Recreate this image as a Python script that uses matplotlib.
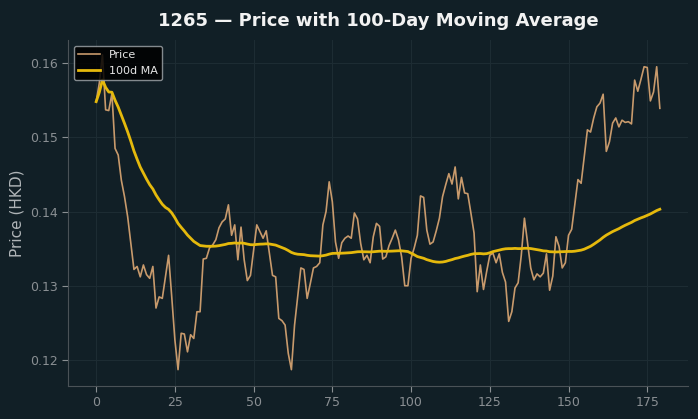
import matplotlib.pyplot as plt
import numpy as np
import pandas as pd

# daily closing prices (HKD)
price = [
    0.1548, 0.1573, 0.1611, 0.1537, 0.1536, 0.1559, 0.1485, 0.1476, 0.1442, 0.1420,
    0.1393, 0.1358, 0.1322, 0.1326, 0.1312, 0.1328, 0.1315, 0.1310, 0.1326, 0.1270,
    0.1285, 0.1283, 0.1312, 0.1341, 0.1285, 0.1227, 0.1187, 0.1236, 0.1235, 0.1211,
    0.1234, 0.1229, 0.1265, 0.1265, 0.1336, 0.1337, 0.1351, 0.1355, 0.1362, 0.1378,
    0.1386, 0.1390, 0.1409, 0.1368, 0.1382, 0.1335, 0.1379, 0.1335, 0.1307, 0.1314,
    0.1348, 0.1382, 0.1373, 0.1364, 0.1374, 0.1344, 0.1314, 0.1312, 0.1256, 0.1253,
    0.1247, 0.1209, 0.1187, 0.1247, 0.1285, 0.1324, 0.1322, 0.1283, 0.1303, 0.1324,
    0.1326, 0.1331, 0.1382, 0.1400, 0.1440, 0.1413, 0.1359, 0.1337, 0.1358, 0.1364,
    0.1367, 0.1364, 0.1398, 0.1390, 0.1357, 0.1335, 0.1341, 0.1331, 0.1366, 0.1384,
    0.1380, 0.1336, 0.1339, 0.1354, 0.1364, 0.1375, 0.1362, 0.1339, 0.1300, 0.1300,
    0.1337, 0.1351, 0.1368, 0.1421, 0.1419, 0.1375, 0.1356, 0.1359, 0.1374, 0.1391,
    0.1420, 0.1436, 0.1451, 0.1437, 0.1460, 0.1417, 0.1446, 0.1425, 0.1424, 0.1398,
    0.1371, 0.1292, 0.1328, 0.1295, 0.1319, 0.1341, 0.1344, 0.1331, 0.1343, 0.1318,
    0.1305, 0.1252, 0.1265, 0.1297, 0.1304, 0.1341, 0.1391, 0.1357, 0.1324, 0.1308,
    0.1316, 0.1312, 0.1317, 0.1343, 0.1294, 0.1313, 0.1366, 0.1353, 0.1324, 0.1331,
    0.1368, 0.1376, 0.1409, 0.1443, 0.1438, 0.1474, 0.1510, 0.1507, 0.1526, 0.1541,
    0.1546, 0.1558, 0.1481, 0.1494, 0.1519, 0.1526, 0.1514, 0.1523, 0.1520, 0.1521,
    0.1518, 0.1577, 0.1562, 0.1578, 0.1595, 0.1594, 0.1549, 0.1561, 0.1595, 0.1539,
]
ma_window = 100

s = pd.Series(price)
ma = s.rolling(ma_window, min_periods=1).mean()
x = np.arange(len(s))

bg = "#111f26"
fig = plt.figure(figsize=(6.98, 4.19), dpi=100)
fig.patch.set_facecolor(bg)
ax = fig.add_axes([0.0974, 0.0788, 0.8883, 0.8257])
ax.set_facecolor(bg)

ax.plot(x, s, color="#c89a6c", lw=1.2, label="Price")
ax.plot(x, ma, color="#e5b90c", lw=2.0, label="100d MA")

ax.set_ylim(0.1165, 0.1631)
ax.set_yticks([0.12, 0.13, 0.14, 0.15, 0.16])
ax.grid(True, color="#1d2c33", lw=0.8)
ax.set_axisbelow(True)
for side in ("top", "right"):
    ax.spines[side].set_visible(False)
for side in ("left", "bottom"):
    ax.spines[side].set_color("#4a5257")
ax.tick_params(colors="#8a8f93", labelsize=9, length=4)
ax.tick_params(axis="both", labelcolor="#8a8f93")

ax.set_ylabel("Price (HKD)", color="#b0b5b8", fontsize=11)
ax.set_title("1265 \u2014 Price with 100-Day Moving Average",
             color="#f2f2f2", fontsize=13, fontweight="bold", pad=10)

leg = ax.legend(loc="upper left", fontsize=8, facecolor="#000000",
                edgecolor="#9aa0a4", framealpha=0.85)
for t in leg.get_texts():
    t.set_color("#e6e6e6")

fig.savefig("out.png", dpi=100, facecolor=bg)
